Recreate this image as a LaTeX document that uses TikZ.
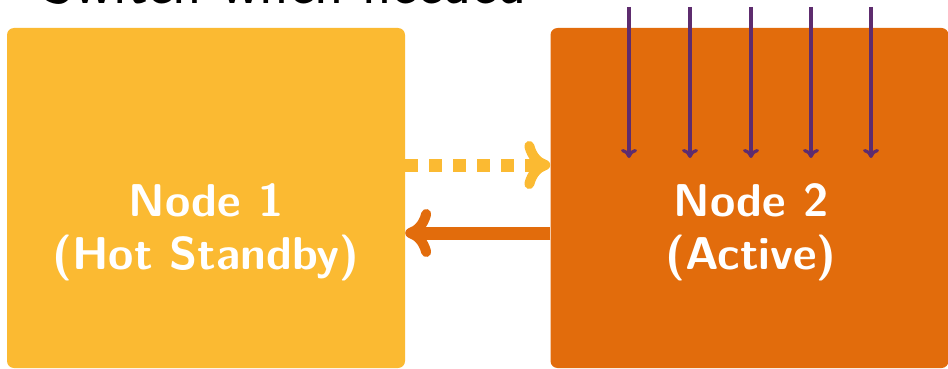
\documentclass[tikz,border=0pt]{standalone}
\usetikzlibrary{arrows.meta}
\definecolor{yel}{RGB}{251,186,50}
\definecolor{org}{RGB}{226,108,12}
\definecolor{pur}{RGB}{94,44,110}
\tikzset{
  box/.style={draw=none, rounded corners=7pt, minimum width=398pt, minimum height=340pt, inner sep=0pt},
  boxtext/.style={text=white, align=center, inner sep=0pt, anchor=north, font=\fontsize{46}{53}\selectfont\sffamily\bfseries},
  bigarrow/.style={line width=13pt, -{Computer Modern Rightarrow[length=26pt, width=48pt, line width=10pt]}},
  parrow/.style={pur, line width=3.2pt, -{Computer Modern Rightarrow[length=9pt, width=16pt, line width=3.2pt]}},
}
\begin{document}
\begin{tikzpicture}[x=1pt,y=-1pt]
\useasboundingbox (0,0) rectangle (948,369);
\node[anchor=base west, inner sep=0pt, font=\fontsize{60.5}{66}\selectfont\sffamily] (title) at (43,4) {Switch when needed};
\node[box, fill=yel] (n1) at (206,198) {};
\node[box, fill=org] (n2) at (749.5,198) {};
\node[boxtext] (t1) at (206,183) {Node 1\\(Hot Standby)};
\node[boxtext] (t2) at (751,183) {Node 2\\(Active)};
\draw[bigarrow, yel, dash pattern=on 13pt off 11pt] ([yshift=33pt]n1.east) -- ([yshift=33pt]n2.west);
\draw[bigarrow, org] ([yshift=-35pt]n2.west) -- ([yshift=-35pt]n1.east);
\foreach \i/\x in {1/629,2/690,3/751,4/811,5/871}{
  \coordinate (s\i) at (\x,7);
  \coordinate (e\i) at (\x,158);
  \draw[parrow] (s\i) -- (e\i);
}
\end{tikzpicture}
\end{document}
